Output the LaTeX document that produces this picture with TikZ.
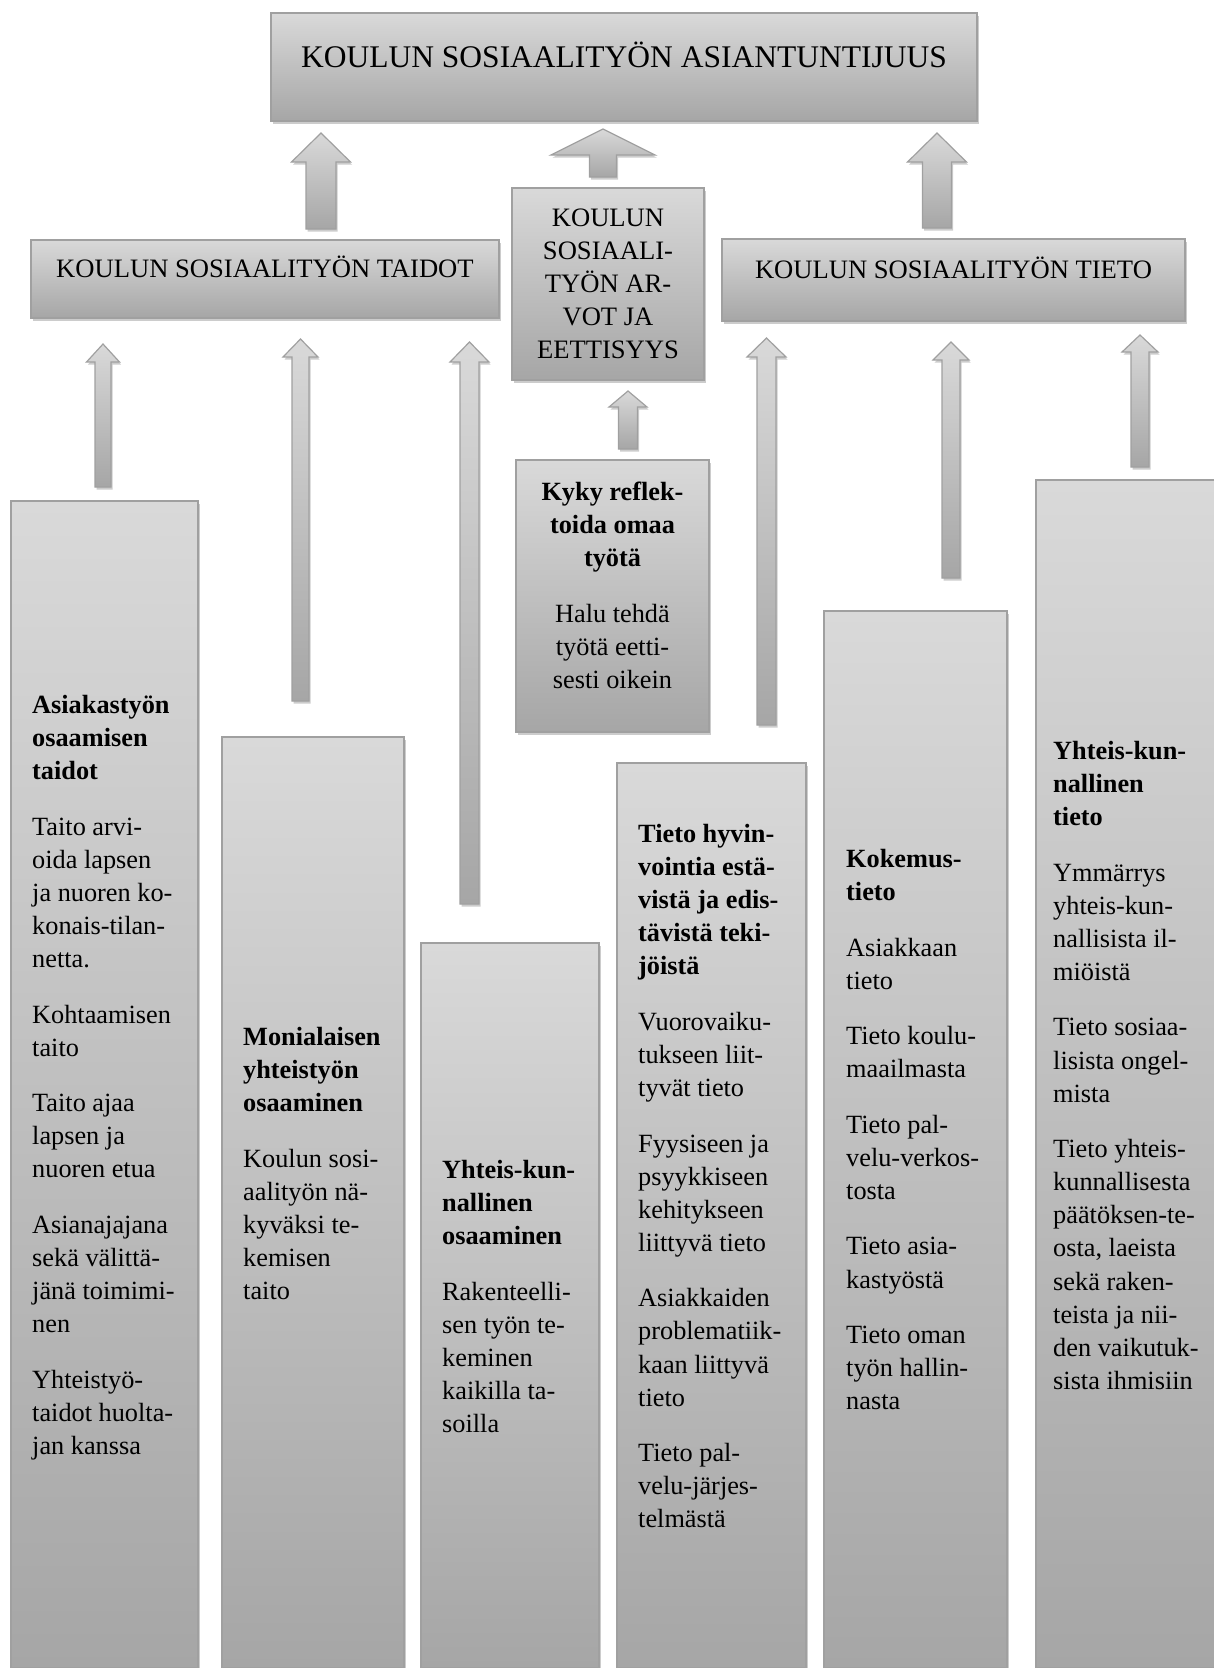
\documentclass[tikz,border=0pt]{standalone}
\usepackage{fontspec}
\setmainfont{Liberation Serif}
\usetikzlibrary{calc,shadows}
\definecolor{boxtop}{HTML}{D9D9D9}
\definecolor{boxbot}{HTML}{A6A6A6}
\definecolor{boxline}{HTML}{A0A0A0}
% block arrow: x, lower node, gap, upper node, gap, shaft half width, head half width, head length
\newcommand\uparr[8]{%
  \path ($(#1,0 |- #2.north)+(0,-#3)$) coordinate (ab)
        ($(#1,0 |- #4.south)+(0,#5)$) coordinate (at);
  \draw[arr] ($(ab)+(-#6,0)$) -- ($(at)+(-#6,#8)$) -- ($(at)+(-#7,#8)$) -- (at)
    -- ($(at)+(#7,#8)$) -- ($(at)+(#6,#8)$) -- ($(ab)+(#6,0)$) -- cycle;}
\begin{document}
\begin{tikzpicture}[x=1pt, y=-1pt,
  box/.style={draw=boxline, line width=1.5pt, top color=boxtop, bottom color=boxbot,
    inner sep=0pt, outer sep=0pt, anchor=north west,
    drop shadow={shadow xshift=2pt, shadow yshift=-3pt, opacity=.2, fill=black}},
  arr/.style={draw=boxline, line width=1.2pt, top color=boxtop, bottom color=boxbot,
    drop shadow={shadow xshift=1.5pt, shadow yshift=-2.5pt, opacity=.2, fill=black}},
  coltext/.style={anchor=north west, inner sep=0pt, align=left,
    font=\fontsize{26.3}{33.1}\selectfont},
  headtext/.style={inner sep=0pt, font=\fontsize{26.6}{33}\selectfont}]
\useasboundingbox (0,0) rectangle (1214,1668);
\fill[white] (0,0) rectangle (1214,1668);

\node[box, minimum width=706pt, minimum height=108pt] (asiantunt) at (271,13) {};
\node[box, minimum width=468pt, minimum height=78pt] (taidot) at (31,240) {};
\node[box, minimum width=192pt, minimum height=192pt] (arvot) at (512,188) {};
\node[box, minimum width=463pt, minimum height=82pt] (tieto) at (722,239) {};

\node[box, minimum width=187pt, minimum height=1167pt] (asiakas) at (11,501) {};
\node[box, minimum width=182pt, minimum height=931pt] (monial) at (222,737) {};
\node[box, minimum width=178pt, minimum height=725pt] (yhtosaa) at (421,943) {};
\node[box, minimum width=193pt, minimum height=272pt] (kyky) at (516,460) {};
\node[box, minimum width=189pt, minimum height=905pt] (hyvinv) at (617,763) {};
\node[box, minimum width=183pt, minimum height=1057pt] (kokemus) at (824,611) {};
\node[box, minimum width=180pt, minimum height=1188pt] (yhttieto) at (1036,480) {};

\uparr{321}{taidot}{11}{asiantunt}{12}{15}{29.5}{29}
\uparr{603}{arvot}{11}{asiantunt}{8}{13.5}{52}{26}
\uparr{937}{tieto}{11}{asiantunt}{12}{14.5}{29.5}{29}
\uparr{628}{kyky}{11}{arvot}{11}{9.5}{19}{16}
\uparr{103}{asiakas}{14}{taidot}{26}{8}{16.5}{18}
\uparr{300.5}{monial}{36}{taidot}{21}{8.5}{17.5}{18}
\uparr{469.5}{yhtosaa}{39}{taidot}{24}{9.5}{19.5}{20}
\uparr{766.5}{hyvinv}{38}{tieto}{17}{9.5}{19.5}{19}
\uparr{951}{kokemus}{33}{tieto}{21}{9}{18}{18}
\uparr{1140}{yhttieto}{13}{tieto}{14}{9}{18}{17}

\node[anchor=base, inner sep=0pt, font=\fontsize{31.5}{35}\selectfont] (asiantuntT)
  at ($(asiantunt.north)+(0,54)$) {KOULUN SOSIAALITYÖN ASIANTUNTIJUUS};
\node[headtext, anchor=base] (taidotT) at ($(taidot.north)+(0,37)$) {KOULUN SOSIAALITYÖN TAIDOT};
\node[headtext, anchor=base] (tietoT) at ($(tieto.north)+(0,39)$) {KOULUN SOSIAALITYÖN TIETO};
\node[headtext, anchor=north, align=center] (arvotT) at ($(arvot.north)+(0,21)$)
  {KOULUN\\SOSIAALI-\\TYÖN AR-\\VOT JA\\EETTISYYS};

\node[coltext, anchor=north, align=center] (kykyT) at ($(kyky.north)+(0,22)$)
  {\textbf{Kyky reflek-}\\\textbf{toida omaa}\\\textbf{työtä}\\[22.4pt]
   Halu tehdä\\työtä eetti-\\sesti oikein};
\node[coltext] (asiakasT) at ($(asiakas.north west)+(21,194)$)
  {\textbf{Asiakastyön}\\\textbf{osaamisen}\\\textbf{taidot}\\[22.4pt]
   Taito arvi-\\oida lapsen\\ja nuoren ko-\\konais-tilan-\\netta.\\[22.4pt]
   Kohtaamisen\\taito\\[22.4pt]
   Taito ajaa\\lapsen ja\\nuoren etua\\[22.4pt]
   Asianajajana\\sekä välittä-\\jänä toimimi-\\nen\\[22.4pt]
   Yhteistyö-\\taidot huolta-\\jan kanssa};
\node[coltext] (monialT) at ($(monial.north west)+(21,290)$)
  {\textbf{Monialaisen}\\\textbf{yhteistyön}\\\textbf{osaaminen}\\[22.4pt]
   Koulun sosi-\\aalityön nä-\\kyväksi te-\\kemisen\\taito};
\node[coltext] (yhtosaaT) at ($(yhtosaa.north west)+(21,217)$)
  {\textbf{Yhteis-kun-}\\\textbf{nallinen}\\\textbf{osaaminen}\\[22.4pt]
   Rakenteelli-\\sen työn te-\\keminen\\kaikilla ta-\\soilla};
\node[coltext] (hyvinvT) at ($(hyvinv.north west)+(21,61)$)
  {\textbf{Tieto hyvin-}\\\textbf{vointia estä-}\\\textbf{vistä ja edis-}\\\textbf{tävistä teki-}\\\textbf{jöistä}\\[22.4pt]
   Vuorovaiku-\\tukseen liit-\\tyvät tieto\\[22.4pt]
   Fyysiseen ja\\psyykkiseen\\kehitykseen\\liittyvä tieto\\[22.4pt]
   Asiakkaiden\\problematiik-\\kaan liittyvä\\tieto\\[22.4pt]
   Tieto pal-\\velu-järjes-\\telmästä};
\node[coltext] (kokemusT) at ($(kokemus.north west)+(22,238)$)
  {\textbf{Kokemus-}\\\textbf{tieto}\\[22.4pt]
   Asiakkaan\\tieto\\[22.4pt]
   Tieto koulu-\\maailmasta\\[22.4pt]
   Tieto pal-\\velu-verkos-\\tosta\\[22.4pt]
   Tieto asia-\\kastyöstä\\[22.4pt]
   Tieto oman\\työn hallin-\\nasta};
\node[coltext] (yhttietoT) at ($(yhttieto.north west)+(17,261)$)
  {\textbf{Yhteis-kun-}\\\textbf{nallinen}\\\textbf{tieto}\\[22.4pt]
   Ymmärrys\\yhteis-kun-\\nallisista il-\\miöistä\\[22.4pt]
   Tieto sosiaa-\\lisista ongel-\\mista\\[22.4pt]
   Tieto yhteis-\\kunnallisesta\\päätöksen-te-\\osta, laeista\\sekä raken-\\teista ja nii-\\den vaikutuk-\\sista ihmisiin};
\end{tikzpicture}
\end{document}
